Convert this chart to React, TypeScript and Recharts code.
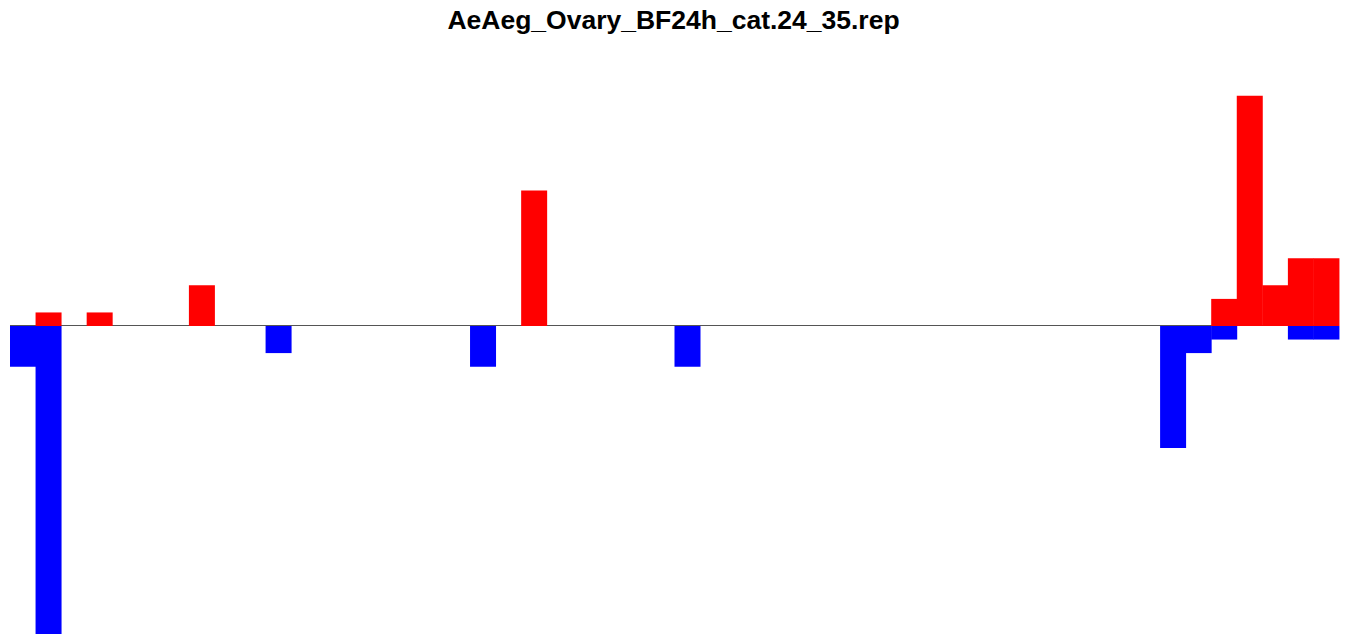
import { BarChart, Bar, XAxis, YAxis, ReferenceLine } from "recharts";

const title = "AeAeg_Ovary_BF24h_cat.24_35.rep";

// 52 bins along the x axis
const bins = [
  1, 2, 3, 4, 5, 6, 7, 8, 9, 10, 11, 12, 13,
  14, 15, 16, 17, 18, 19, 20, 21, 22, 23, 24, 25, 26,
  27, 28, 29, 30, 31, 32, 33, 34, 35, 36, 37, 38, 39,
  40, 41, 42, 43, 44, 45, 46, 47, 48, 49, 50, 51, 52,
];

// counts above the line (red)
const up = [
  0, 1, 0, 1, 0, 0, 0, 3, 0, 0, 0, 0, 0,
  0, 0, 0, 0, 0, 0, 0, 10, 0, 0, 0, 0, 0,
  0, 0, 0, 0, 0, 0, 0, 0, 0, 0, 0, 0, 0,
  0, 0, 0, 0, 0, 0, 0, 0, 2, 17, 3, 5, 5,
];

// counts below the line (blue)
const down = [
  -3, -23, 0, 0, 0, 0, 0, 0, 0, 0, -2, 0, 0,
  0, 0, 0, 0, 0, -3, 0, 0, 0, 0, 0, 0, 0,
  -3, 0, 0, 0, 0, 0, 0, 0, 0, 0, 0, 0, 0,
  0, 0, 0, 0, 0, 0, -9, -2, -1, 0, 0, -1, -1,
];

const yDomain = [-22.73, 19.63];

const data = bins.map((b, i) => ({ bin: b, up: up[i], down: down[i] }));

export default function App() {
  return (
    <div style={{ position: "absolute", left: 0, top: 0, width: 1347, height: 634, background: "#fff" }}>
      <div
        style={{
          position: "absolute",
          top: 5,
          left: 0,
          width: 1347,
          textAlign: "center",
          fontFamily: "'Liberation Sans', Arial, sans-serif",
          fontWeight: "bold",
          fontSize: 26.5,
          lineHeight: "30px",
          color: "#000",
        }}
      >
        {title}
      </div>
      <BarChart
        width={1347}
        height={634}
        data={data}
        stackOffset="sign"
        barCategoryGap={0}
        barGap={0}
        margin={{ top: 60, right: 8, bottom: 0, left: 10 }}
      >
        <XAxis dataKey="bin" hide />
        <YAxis hide domain={yDomain} allowDataOverflow />
        <ReferenceLine y={0} stroke="#555" strokeWidth={1} shapeRendering="crispEdges" zIndex={-10} />
        <Bar dataKey="down" stackId="a" fill="#0000ff" isAnimationActive={false} />
        <Bar dataKey="up" stackId="a" fill="#ff0000" isAnimationActive={false} />
      </BarChart>
    </div>
  );
}
